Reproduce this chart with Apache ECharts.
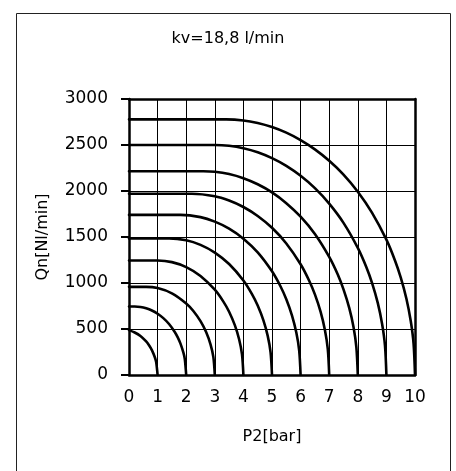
<!DOCTYPE html>
<html>
<head>
<meta charset="utf-8">
<script src="https://cdn.jsdelivr.net/npm/echarts@6/dist/echarts.min.js"></script>
<style>
html,body{margin:0;padding:0;background:#fff;}
#chart{width:456px;height:471px;}
</style>
</head>
<body>
<div id="chart"></div>
<script>
// Chart texts
const titleText = "kv=18,8 l/min";
const xName = "P2[bar]";
const yName = "Qn[Nl/min]";

// Axis ticks
const xTicks = [0, 1, 2, 3, 4, 5, 6, 7, 8, 9, 10];
const yTicks = [0, 500, 1000, 1500, 2000, 2500, 3000];

// Inlet pressures P1 [bar] of each curve
const inletPressures = [1, 2, 3, 4, 5, 6, 7, 8, 9, 10];

// Curves: [P2 bar, Qn Nl/min]
const curveP1_1 = [[0,488],[0.2,462],[0.4,424],[0.6,365],[0.7,324],[0.8,271],[0.9,196],[0.95,140],[1,0]];
const curveP1_2 = [[0,744],[0.2,744],[0.4,739],[0.6,725],[0.8,701],[1.0,666],[1.2,618],[1.4,554],[1.6,468],[1.7,411],[1.8,341],[1.9,245],[1.95,175],[2,0]];
const curveP1_3 = [[0,958],[0.6,958],[1,945],[1.5,888],[2,778],[2.25,696],[2.5,585],[2.7,464],[2.85,333],[2.95,195],[3,0]];
const curveP1_4 = [[0,1244],[1,1244],[1.5,1227],[2,1173],[2.5,1077],[3,927],[3.3,798],[3.5,688],[3.7,542],[3.85,388],[3.95,226],[4,0]];
const curveP1_5 = [[0,1485],[1.4,1485],[2,1464],[2.5,1414],[3,1330],[3.5,1206],[4,1027],[4.3,879],[4.5,755],[4.7,594],[4.85,425],[4.95,247],[5,0]];
const curveP1_6 = [[0,1740],[1.8,1740],[2.5,1716],[3,1667],[3.5,1591],[4,1482],[4.5,1333],[5,1127],[5.3,962],[5.5,823],[5.7,646],[5.85,461],[5.95,268],[6,0]];
const curveP1_7 = [[0,1970],[2.2,1970],[3,1943],[3.5,1896],[4,1826],[4.5,1729],[5,1600],[5.5,1430],[6,1204],[6.3,1025],[6.5,876],[6.7,686],[6.85,489],[6.95,284],[7,0]];
const curveP1_8 = [[0,2215],[2.6,2215],[3,2209],[3.5,2184],[4,2139],[4.5,2073],[5,1985],[5.5,1868],[6,1721],[6.5,1533],[7,1284],[7.3,1092],[7.5,930],[7.7,729],[7.85,521],[7.95,301],[8,0]];
const curveP1_9 = [[0,2500],[3,2500],[3.5,2491],[4,2465],[4.5,2421],[5,2357],[5.5,2273],[6,2165],[6.5,2031],[7,1863],[7.5,1654],[8,1382],[8.3,1172],[8.5,999],[8.7,781],[8.85,555],[8.95,322],[9,0]];
const curveP1_10 = [[0,2778],[3.4,2778],[4,2767],[4.5,2739],[5,2695],[5.5,2634],[6,2553],[6.5,2452],[7,2328],[7.5,2178],[8,1992],[8.5,1763],[9,1471],[9.3,1245],[9.5,1061],[9.7,829],[9.85,589],[9.95,342],[10,0]];

const curves = [curveP1_1, curveP1_2, curveP1_3, curveP1_4, curveP1_5,
                curveP1_6, curveP1_7, curveP1_8, curveP1_9, curveP1_10];

const FONT = "DejaVu Sans";
const chart = echarts.init(document.getElementById('chart'), null, {renderer: 'canvas'});

const xMin = xTicks[0], xMax = xTicks[xTicks.length - 1];
const yMin = yTicks[0], yMax = yTicks[yTicks.length - 1];
const xStep = xTicks[1] - xTicks[0];
const yStep = yTicks[1] - yTicks[0];

const series = curves.map((c, i) => ({
  name: 'P1=' + inletPressures[i] + ' bar',
  type: 'line',
  data: c,
  showSymbol: false,
  symbol: 'none',
  smooth: 0.3,
  clip: true,
  lineStyle: {color: '#000', width: 2.6, cap: 'round', join: 'round'},
  silent: true,
  z: 5
}));

chart.setOption({
  animation: false,
  backgroundColor: '#fff',
  title: {
    text: titleText,
    left: 'center',
    top: 26,
    textStyle: {fontFamily: FONT, fontSize: 16, fontWeight: 'normal', color: '#000'}
  },
  graphic: [{
    type: 'rect',
    shape: {x: 16.5, y: 13.5, width: 434, height: 480},
    style: {fill: 'none', stroke: '#222', lineWidth: 1},
    silent: true,
    z: 0
  }],
  grid: {left: 129, right: 41, top: 99, bottom: 96, containLabel: false},
  xAxis: [{
    type: 'value',
    min: xMin, max: xMax, interval: xStep,
    name: xName,
    nameLocation: 'middle',
    nameGap: 54,
    nameTextStyle: {fontFamily: FONT, fontSize: 16, color: '#000'},
    axisLine: {show: true, lineStyle: {color: '#000', width: 2.5}},
    axisTick: {show: false},
    axisLabel: {fontFamily: FONT, fontSize: 17, color: '#000', margin: 14},
    splitLine: {show: true, lineStyle: {color: '#000', width: 1}}
  }, {
    type: 'value',
    position: 'top',
    min: xMin, max: xMax, interval: xStep,
    axisLine: {show: true, onZero: false, lineStyle: {color: '#000', width: 2.5}},
    axisTick: {show: false},
    axisLabel: {show: false},
    splitLine: {show: false}
  }],
  yAxis: [{
    type: 'value',
    min: yMin, max: yMax, interval: yStep,
    name: yName,
    nameLocation: 'middle',
    nameGap: 78,
    nameTextStyle: {fontFamily: FONT, fontSize: 16, color: '#000'},
    axisLine: {show: true, lineStyle: {color: '#000', width: 2.5}},
    axisTick: {show: true, length: 8, inside: false, lineStyle: {color: '#000', width: 2}},
    axisLabel: {fontFamily: FONT, fontSize: 17, color: '#000', margin: 21,
                formatter: v => String(v)},
    splitLine: {show: true, lineStyle: {color: '#000', width: 1}}
  }, {
    type: 'value',
    position: 'right',
    min: yMin, max: yMax, interval: yStep,
    axisLine: {show: true, onZero: false, lineStyle: {color: '#000', width: 2.5}},
    axisTick: {show: false},
    axisLabel: {show: false},
    splitLine: {show: false}
  }],
  series: series
});
</script>
</body>
</html>
